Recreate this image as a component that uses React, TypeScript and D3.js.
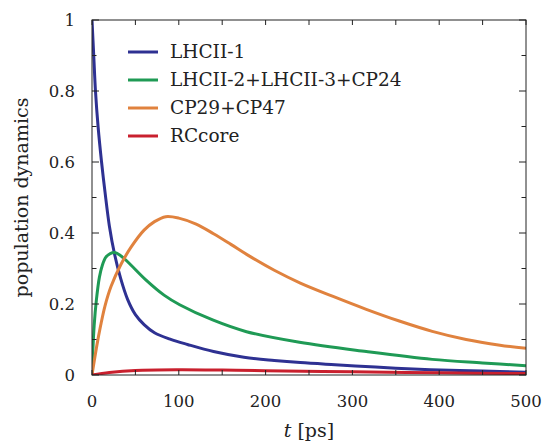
import * as d3 from 'd3';
import { useEffect, useRef } from 'react';

// time points (ps) and populations
const tBlue = [0, 2, 4, 7, 11, 15, 20, 26, 33, 41, 50, 60, 72, 90, 110, 140, 175, 210, 240, 280, 315, 350, 390, 450, 500];
const lhcii1 = [1.0, 0.9, 0.8, 0.7, 0.6, 0.515, 0.42, 0.34, 0.272, 0.213, 0.17, 0.142, 0.119, 0.101, 0.086, 0.066, 0.05, 0.041, 0.035, 0.029, 0.024, 0.019, 0.015, 0.011, 0.008];

const tGreen = [0, 1, 2.5, 5, 8.5, 12, 16, 21, 26, 32, 41, 62, 83, 101, 139, 178, 239, 316, 392, 450, 500];
const lhcii23 = [0, 0.07, 0.14, 0.21, 0.275, 0.31, 0.332, 0.342, 0.345, 0.338, 0.319, 0.268, 0.225, 0.198, 0.155, 0.122, 0.092, 0.066, 0.044, 0.034, 0.026];

const tOrange = [0, 5, 10, 15, 22, 33, 45, 60, 72, 85, 100, 120, 140, 160, 180, 210, 240, 277, 316, 354, 392, 431, 470, 500];
const cp2947 = [0, 0.075, 0.14, 0.195, 0.25, 0.31, 0.36, 0.408, 0.432, 0.446, 0.442, 0.425, 0.398, 0.368, 0.337, 0.295, 0.259, 0.222, 0.185, 0.152, 0.123, 0.1, 0.084, 0.075];

const tRed = [0, 20, 50, 100, 150, 200, 300, 400, 500];
const rccore = [0, 0.007, 0.013, 0.015, 0.014, 0.012, 0.009, 0.006, 0.004];

const seriesNames = ['LHCII-1', 'LHCII-2+LHCII-3+CP24', 'CP29+CP47', 'RCcore'];
const seriesColors = ['#2e3192', '#1f9a55', '#e0823e', '#c9202e'];

const xTickLabels = [0, 100, 200, 300, 400, 500];
const yTickLabels = [0, 0.2, 0.4, 0.6, 0.8, 1];

function App() {
    const ref = useRef(null);

    useEffect(() => {
        const svg = d3.select(ref.current);
        svg.selectAll('*').remove();

        const left = 92, right = 526, top = 20, bottom = 375;
        const x = d3.scaleLinear().domain([0, 500]).range([left, right]);
        const y = d3.scaleLinear().domain([0, 1]).range([bottom, top]);
        const font = 'DejaVu Serif';

        // clip
        svg.append('clipPath').attr('id', 'clip')
            .append('rect')
            .attr('x', left).attr('y', top)
            .attr('width', right - left).attr('height', bottom - top);

        const series = [
            { t: tBlue, v: lhcii1 },
            { t: tGreen, v: lhcii23 },
            { t: tOrange, v: cp2947 },
            { t: tRed, v: rccore },
        ];

        const line = d3.line<[number, number]>()
            .x(d => x(d[0]))
            .y(d => y(d[1]))
            .curve(d3.curveCatmullRom.alpha(0.5));

        const g = svg.append('g').attr('clip-path', 'url(#clip)');
        series.forEach((s, i) => {
            const pts = s.t.map((t, j) => [t, s.v[j]] as [number, number]);
            g.append('path')
                .datum(pts)
                .attr('d', line)
                .attr('fill', 'none')
                .attr('stroke', seriesColors[i])
                .attr('stroke-width', 3);
        });

        // frame
        svg.append('rect')
            .attr('x', left).attr('y', top)
            .attr('width', right - left).attr('height', bottom - top)
            .attr('fill', 'none')
            .attr('stroke', '#222')
            .attr('stroke-width', 1);

        // x ticks (every 50), top and bottom
        const xt = d3.range(0, 501, 50);
        xt.forEach(t => {
            svg.append('line')
                .attr('x1', x(t)).attr('x2', x(t))
                .attr('y1', bottom).attr('y2', bottom - 5)
                .attr('stroke', '#222');
            svg.append('line')
                .attr('x1', x(t)).attr('x2', x(t))
                .attr('y1', top).attr('y2', top + 5)
                .attr('stroke', '#222');
        });
        // y ticks (every 0.1)
        const yt = d3.range(0, 11).map(d => d / 10);
        yt.forEach((v, i) => {
            const len = i % 2 === 0 ? 7 : 4.5;
            svg.append('line')
                .attr('x1', left).attr('x2', left + len)
                .attr('y1', y(v)).attr('y2', y(v))
                .attr('stroke', '#222');
            svg.append('line')
                .attr('x1', right).attr('x2', right - len)
                .attr('y1', y(v)).attr('y2', y(v))
                .attr('stroke', '#222');
        });

        // tick labels
        svg.selectAll('text.xl')
            .data(xTickLabels)
            .join('text')
            .attr('x', d => x(d))
            .attr('y', 407)
            .attr('text-anchor', 'middle')
            .attr('font-family', font)
            .attr('font-size', 16.5)
            .attr('fill', '#222')
            .text(d => String(d));

        svg.selectAll('text.yl')
            .data(yTickLabels)
            .join('text')
            .attr('x', 75)
            .attr('y', d => y(d))
            .attr('dy', '0.35em')
            .attr('text-anchor', 'end')
            .attr('font-family', font)
            .attr('font-size', 16.5)
            .attr('fill', '#222')
            .text(d => String(d));

        // axis titles
        const xlab = svg.append('text')
            .attr('x', (left + right) / 2)
            .attr('y', 437)
            .attr('text-anchor', 'middle')
            .attr('font-family', font)
            .attr('font-size', 19)
            .attr('fill', '#222');
        xlab.append('tspan').attr('font-style', 'italic').text('t');
        xlab.append('tspan').text(' [ps]');

        svg.append('text')
            .attr('transform', `translate(28,${(top + bottom) / 2}) rotate(-90)`)
            .attr('text-anchor', 'middle')
            .attr('font-family', font)
            .attr('font-size', 19)
            .attr('fill', '#222')
            .text('population dynamics');

        // legend
        seriesNames.forEach((name, i) => {
            const ly = 52 + i * 28;
            svg.append('line')
                .attr('x1', 128).attr('x2', 158)
                .attr('y1', ly).attr('y2', ly)
                .attr('stroke', seriesColors[i])
                .attr('stroke-width', 3);
            svg.append('text')
                .attr('x', 170)
                .attr('y', ly)
                .attr('dy', '0.35em')
                .attr('font-family', font)
                .attr('font-size', 18.5)
                .attr('fill', '#222')
                .text(name);
        });
    }, []);

    return (
        <svg ref={ref} width={544} height={448}
            style={{ position: 'absolute', left: 0, top: 0, background: '#fff' }} />
    );
}

export default App;
